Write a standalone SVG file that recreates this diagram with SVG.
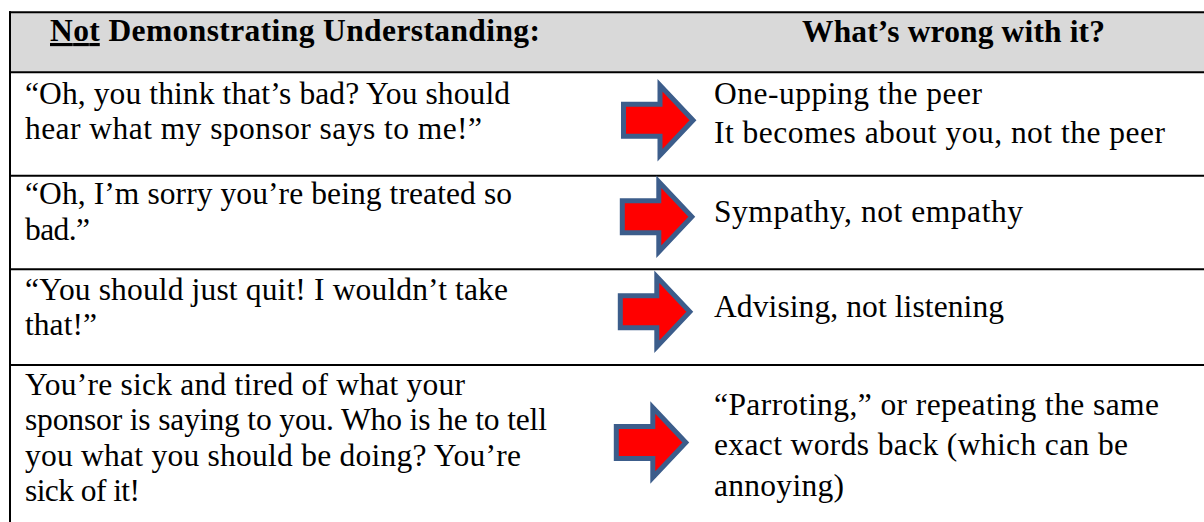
<svg xmlns="http://www.w3.org/2000/svg" width="1204" height="522" viewBox="0 0 1204 522">
  <style>
    .cell { font-family: "Liberation Serif", "Times New Roman", serif; font-size: 31.5px; fill: #000; }
    .head { font-family: "Liberation Serif", "Times New Roman", serif; font-size: 31.5px; font-weight: bold; fill: #000; }
    .rule { stroke: #000; stroke-width: 2; fill: none; }
    .arrow { fill: #ff0000; stroke: #3c5d8b; stroke-width: 5; stroke-linejoin: miter; }
  </style>
  <defs>
    <!-- block arrow pointing right, outer box about 76 x 77 -->
    <path id="blockArrow" d="M3,22.5 H39.5 V3.5 L72.5,38.5 L39.5,73.5 V54.5 H3 Z"/>
  </defs>

  <rect width="1204" height="522" fill="#fff"/>

  <!-- header band -->
  <g id="header">
    <rect x="10" y="12.3" width="1194" height="60" fill="#d9d9d9"/>
    <text class="head" x="50" y="41" textLength="490"><tspan text-decoration="underline">Not</tspan> Demonstrating Understanding:</text>
    <text class="head" x="802" y="41.5" textLength="303">What’s wrong with it?</text>
  </g>

  <!-- table rules -->
  <g id="rules">
    <line class="rule" x1="9" y1="12.3" x2="1204" y2="12.3"/>
    <line class="rule" x1="9" y1="72.3" x2="1204" y2="72.3"/>
    <line class="rule" x1="9" y1="175.7" x2="1204" y2="175.7"/>
    <line class="rule" x1="9" y1="269.3" x2="1204" y2="269.3"/>
    <line class="rule" x1="9" y1="365" x2="1204" y2="365"/>
    <line class="rule" x1="10" y1="11.3" x2="10" y2="522"/>
  </g>

  <g id="row1">
    <text class="cell" x="25" y="104" textLength="485">“Oh, you think that’s bad? You should</text>
    <text class="cell" x="25" y="139" textLength="457">hear what my sponsor says to me!”</text>
    <text class="cell" x="714" y="104" textLength="268">One-upping the peer</text>
    <text class="cell" x="714" y="143" textLength="451">It becomes about you, not the peer</text>
  </g>

  <g id="row2">
    <text class="cell" x="25" y="204" textLength="487">“Oh, I’m sorry you’re being treated so</text>
    <text class="cell" x="25" y="240" textLength="65">bad.”</text>
    <text class="cell" x="714" y="221.5" textLength="309">Sympathy, not empathy</text>
  </g>

  <g id="row3">
    <text class="cell" x="25" y="299.5" textLength="483">“You should just quit! I wouldn’t take</text>
    <text class="cell" x="25" y="335" textLength="72">that!”</text>
    <text class="cell" x="714" y="316.5" textLength="290">Advising, not listening</text>
  </g>

  <g id="row4">
    <text class="cell" x="25" y="394.5" textLength="440">You’re sick and tired of what your</text>
    <text class="cell" x="25" y="430" textLength="522">sponsor is saying to you. Who is he to tell</text>
    <text class="cell" x="25" y="465.5" textLength="496">you what you should be doing? You’re</text>
    <text class="cell" x="25" y="501" textLength="115">sick of it!</text>
    <text class="cell" x="714" y="415" textLength="445">“Parroting,” or repeating the same</text>
    <text class="cell" x="714" y="455" textLength="414">exact words back (which can be</text>
    <text class="cell" x="714" y="495.5" textLength="130">annoying)</text>
  </g>

  <!-- arrows linking each remark to its comment -->
  <g id="arrows">
    <use href="#blockArrow" class="arrow" transform="translate(620.5,81.7)"/>
    <use href="#blockArrow" class="arrow" transform="translate(619.3,178.3)"/>
    <use href="#blockArrow" class="arrow" transform="translate(617.3,273.3)"/>
    <use href="#blockArrow" class="arrow" transform="translate(613.3,404)"/>
  </g>
</svg>
